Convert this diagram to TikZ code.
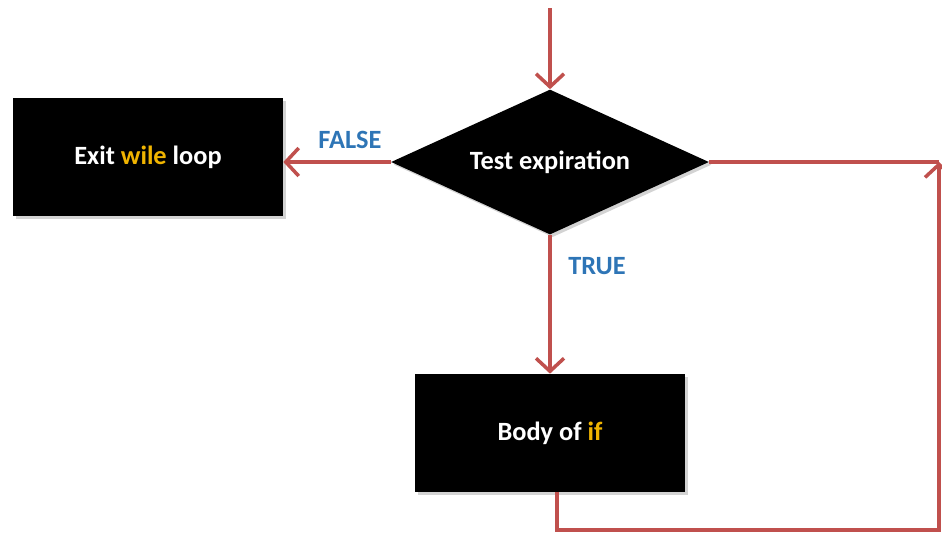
\documentclass[tikz,border=0pt]{standalone}
\usepackage{fontspec}
\setmainfont{Carlito}
\usepackage{tikz}
\usetikzlibrary{arrows.meta}
\usetikzlibrary{shapes.geometric}
\usetikzlibrary{shadows}
\definecolor{flowred}{HTML}{C0504D}
\definecolor{labelblue}{HTML}{2E75B6}
\definecolor{keyword}{HTML}{F0B400}
\tikzset{
  block/.style={rectangle, fill=black, text=white, font=\bfseries\fontsize{15}{17}\selectfont,
    minimum width=5.4cm, minimum height=2.36cm,
    drop shadow={shadow xshift=1.5pt, shadow yshift=-1.5pt, opacity=0.35}},
  decision/.style={diamond, fill=black, text=white, font=\bfseries\fontsize{15}{17}\selectfont,
    inner sep=0pt, aspect=2.19, minimum width=6.36cm, minimum height=2.9cm,
    drop shadow={shadow xshift=1.5pt, shadow yshift=-1.5pt, opacity=0.35}},
  flow/.style={draw=flowred, line width=2pt, -{Straight Barb[length=2.6mm, width=5.6mm, line width=2pt]}},
  flowline/.style={draw=flowred, line width=2pt},
  answer/.style={text=labelblue, font=\bfseries\fontsize{15}{17}\selectfont}
}
\begin{document}
\begin{tikzpicture}[x=0.02cm, y=-0.02cm]
    \useasboundingbox (0,0) rectangle (942,539);
    \node[decision] (test) at (550,162) {Test expiration};
    \node[block] (exit) at (148,157) {Exit \textcolor{keyword}{wile} loop};
    \node[block] (body) at (550,433) {Body of \textcolor{keyword}{if}};
    \coordinate (entry) at (550,8);
    \coordinate (corner) at (939,162);
    \coordinate (loopbase) at (557,530);
    % connectors
    \draw[flow] (entry) -- (test.north);
    \draw[flow] (test.west) -- (test.west -| exit.east);
    \draw[flow] (test.south) -- (body.north);
    \draw[flowline] (test.east) -- (corner);
    \draw[flow] (body.south -| loopbase) -- (loopbase) -| (corner);
    % labels
    \node[answer] (falselabel) at (350,140) {FALSE};
    \node[answer] (truelabel) at (597,266) {TRUE};
\end{tikzpicture}
\end{document}
